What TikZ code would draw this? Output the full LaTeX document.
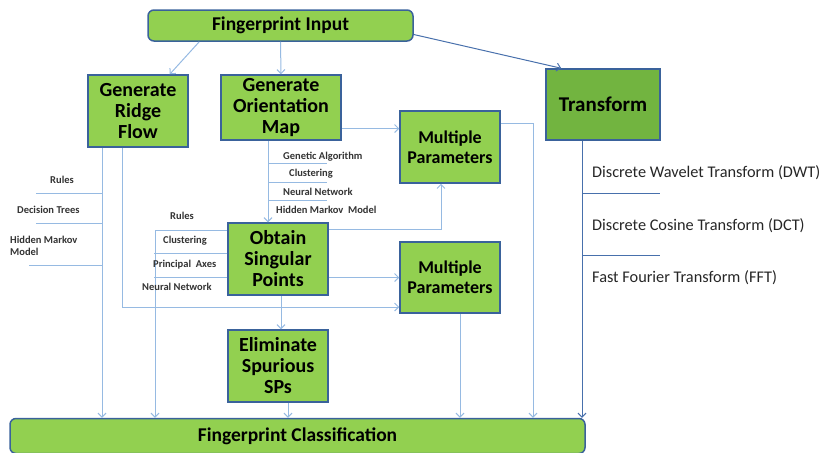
\documentclass[tikz,border=0pt]{standalone}
\usepackage{fontspec}
\setmainfont{Carlito}
\usetikzlibrary{arrows.meta,calc}
\definecolor{boxgreen}{RGB}{146,208,80}
\definecolor{darkgreen}{RGB}{114,180,64}
\definecolor{boxblue}{RGB}{58,98,155}
\definecolor{linkblue}{RGB}{150,186,226}
\definecolor{deepblue}{RGB}{72,112,172}

\begin{document}
\begin{tikzpicture}[
    x=1pt, y=-1pt,
    box/.style={rectangle, draw=boxblue, line width=1.5pt, fill=boxgreen, inner sep=0pt, align=center, font=\bfseries\fontsize{20}{21}\selectfont},
    stage/.style={box, minimum width=100pt, minimum height=72pt},
    param/.style={stage, font=\bfseries\fontsize{18}{20}\selectfont},
    wide/.style={box, rounded corners=6pt, font=\bfseries\fontsize{19.5}{21}\selectfont},
    link/.style={draw=linkblue, line width=1pt},
    arrow/.style={link, -{Straight Barb[length=4pt,width=8pt]}},
    deep/.style={draw=deepblue, line width=1pt},
    tag/.style={inner sep=0pt, anchor=west, font=\bfseries\fontsize{10.5}{12}\selectfont, text=black!80, align=left},
    method/.style={inner sep=0pt, anchor=west, font=\fontsize{16.3}{18}\selectfont, text=black!85}
]
\useasboundingbox (0,0) rectangle (823,453);

% Input and output
\node[wide, minimum width=265pt, minimum height=31pt] (input) at (280.5,25.5) {Fingerprint Input};
\node[wide, minimum width=575pt, minimum height=35pt] (classif) at (297.5,436) {Fingerprint Classification};

% Stages
\node[stage] (ridge) at (138,111) {Generate\\Ridge\\Flow};
\node[stage, minimum width=120pt, minimum height=65pt] (orient) at (281,107.5) {Generate\\Orientation\\Map};
\node[stage] (obtain) at (278,259) {Obtain\\Singular\\Points};
\node[stage] (elim) at (278,366) {Eliminate\\Spurious\\SPs};
\node[stage, fill=darkgreen, minimum width=114pt, minimum height=71pt, font=\bfseries\fontsize{21}{22}\selectfont] (transform) at (603,104.5) {Transform};

% Parameters
\node[param] (mpa) at (450,147) {Multiple\\Parameters};
\node[param, minimum height=71pt] (mpb) at (450,277.5) {Multiple\\Parameters};

% Connections
\draw[arrow] ([xshift=52pt]input.south west) -- ([xshift=-19pt]ridge.north east);
\draw[arrow] (input.south) -- (orient.north);
\draw[deep, -{Straight Barb[length=4pt,width=8pt]}] ([yshift=-9pt]input.east) -- ([xshift=16pt]transform.north west);

\draw[arrow] ([yshift=-21pt]orient.east) -- ([yshift=-21pt]orient.east -| mpa.west);
\draw[arrow] ([xshift=-13pt]orient.south) -- ([xshift=-13pt]orient.south |- obtain.north);
\draw[arrow] ([yshift=24pt]mpa.east) -| ([xshift=235.5pt]classif.north);

\draw[arrow] ([yshift=30pt]obtain.east) -| ([xshift=-9pt]mpa.south);
\draw[arrow] (obtain.east |- mpb.west) -- (mpb.west);
\draw[arrow] ([xshift=3pt]obtain.south) -- ([xshift=3pt]elim.north);
\draw[arrow] ([xshift=10pt]elim.south) -- ([xshift=10pt]elim.south |- classif.north);
\draw[arrow] ([xshift=10pt]mpb.south) -- ([xshift=10pt]mpb.south |- classif.north);

\draw[arrow] ([xshift=-36pt]ridge.south) -- ([xshift=-36pt]ridge.south |- classif.north);
\draw[arrow] ([xshift=-16pt]ridge.south) |- ([yshift=-29.5pt]mpb.west);

\draw[arrow] ([yshift=29pt]obtain.west) -| ([xshift=-142.5pt]classif.north);
\draw[link] ([yshift=6pt]obtain.west) -- ++(-73,0);
\draw[link] ([yshift=-18pt]obtain.west) -- ++(-73,0);

\draw[deep, -{Straight Barb[length=4pt,width=8pt]}] ([xshift=-21pt]transform.south) -- ([xshift=-21pt]transform.south |- classif.north);
\draw[deep] ([xshift=-21pt]transform.south |- 0,193) -- ++(78,0);
\draw[deep] ([xshift=-21pt]transform.south |- 0,255) -- ++(78,0);

% Branches of the orientation map
\foreach \yy in {163,182,200}
    \draw[link] ([xshift=-13pt]orient.south |- 0,\yy) -- ++(59,0);
\node[tag] (ga) at (283,157) {Genetic Algorithm};
\node[tag] (cla) at (289,174) {Clustering};
\node[tag] (nna) at (283,192) {Neural Network};
\node[tag] (hmma) at (276,210) {Hidden Markov~~Model};

% Branches of the ridge flow
\draw[link] ([xshift=-36pt]ridge.south |- 0,193) -- ++(-66,0);
\draw[link] ([xshift=-36pt]ridge.south |- 0,223) -- ++(-66,0);
\draw[link] ([xshift=-36pt]ridge.south |- 0,265) -- ++(-73,0);
\node[tag] (rulesa) at (50,180) {Rules};
\node[tag] (dt) at (17,210) {Decision Trees};
\node[tag] (hmmb) at (10,246) {Hidden Markov\\Model};

% Labels at the singular points
\node[tag] (rulesb) at (170,216) {Rules};
\node[tag] (clb) at (163,241) {Clustering};
\node[tag] (pa) at (153,265) {Principal~~Axes};
\node[tag] (nnb) at (142,287) {Neural Network};

% Transforms
\node[method] (dwt) at (592,173) {Discrete Wavelet Transform (DWT)};
\node[method] (dct) at (592,226) {Discrete Cosine Transform (DCT)};
\node[method] (fft) at (592,278) {Fast Fourier Transform (FFT)};

\end{tikzpicture}
\end{document}
